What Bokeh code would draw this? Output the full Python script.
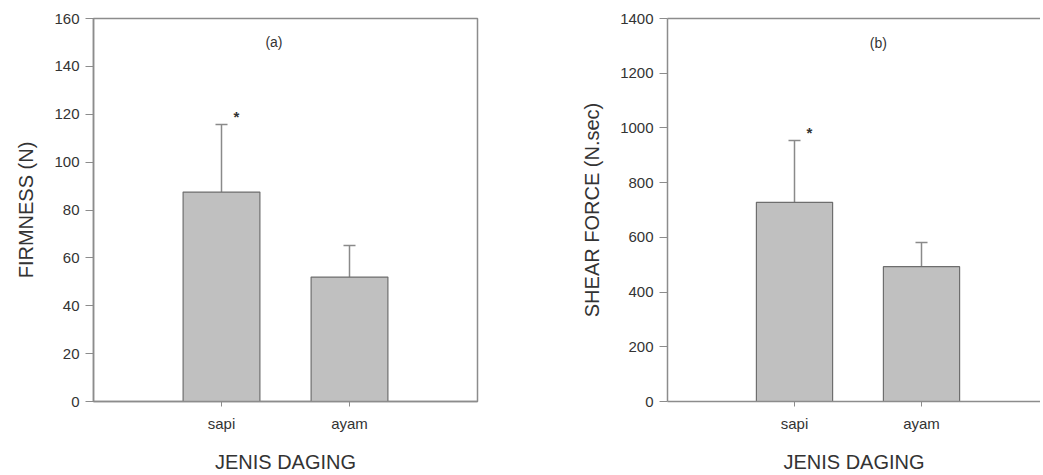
from bokeh.plotting import figure
from bokeh.layouts import row
from bokeh.models import (ColumnDataSource, Range1d, FixedTicker, SingleIntervalTicker,
                          LinearAxis, Whisker, TeeHead, Label)
from bokeh.core.properties import value
from bokeh.embed import file_html
from bokeh.resources import INLINE

categories = ["sapi", "ayam"]
firmness_mean = [87.5, 52.0]
firmness_sd = [28.2, 13.2]
shear_mean = [728.0, 493.0]
shear_sd = [226.0, 88.0]
signif = ["*", ""]
panel_labels = ["(a)", "(b)"]
y_titles = ["FIRMNESS (N)", "SHEAR FORCE (N.sec)"]
x_title = "JENIS DAGING"

FONT = "Liberation Sans"
TXT = "#333333"
AX = "#8c8c8c"


def make(mean, sd, ymax, yint, ytitle, panel, panel_xy, width, bl, br, xend, box):
    xs = [i + 1 for i in range(len(categories))]
    src = ColumnDataSource(dict(
        x=xs, top=mean,
        upper=[m + s for m, s in zip(mean, sd)],
        star=signif,
    ))
    p = figure(width=width, height=475, output_backend="svg", toolbar_location=None,
               x_range=Range1d(0, xend), y_range=Range1d(0, ymax),
               min_border_left=bl, min_border_right=br, min_border_top=18,
               min_border_bottom=10)
    p.grid.visible = False
    p.background_fill_color = "white"
    p.border_fill_color = "white"
    p.outline_line_color = AX if box else None
    p.outline_line_width = 1.5

    p.vbar(x="x", top="top", bottom=0, width=0.6, source=src,
           fill_color="#c0c0c0", line_color="#6e6e6e", line_width=1.2)
    w = Whisker(base="x", lower="top", upper="upper", source=src,
                line_color="#8a8a8a", line_width=1.5,
                lower_head=None,
                upper_head=TeeHead(size=12, line_color="#8a8a8a", line_width=1.5))
    p.add_layout(w)
    p.text(x="x", y="upper", text="star", source=src, x_offset=15, y_offset=-8,
           text_font=value(FONT), text_font_size="15px", text_color="#333333",
           text_font_style="bold",
           text_align="center", text_baseline="middle")

    xa = p.xaxis[0]
    xa.ticker = FixedTicker(ticks=xs)
    xa.major_label_overrides = {x: c for x, c in zip(xs, categories)}
    xa.axis_label = x_title
    ya = p.yaxis[0]
    ya.ticker = SingleIntervalTicker(interval=yint)
    ya.axis_label = ytitle
    for a in (xa, ya):
        a.axis_line_color = AX
        a.axis_line_width = 1.5
        a.major_tick_line_color = AX
        a.major_tick_line_width = 1
        a.major_tick_in = 0
        a.minor_tick_line_color = None
        a.major_label_text_font = FONT
        a.major_label_text_font_size = "15px"
        a.major_label_text_color = TXT
        a.axis_label_text_font = FONT
        a.axis_label_text_font_size = "20px"
        a.axis_label_text_font_style = "normal"
        a.axis_label_text_color = TXT
    ya.major_tick_out = 8
    ya.major_label_standoff = 6
    ya.axis_label_standoff = 14
    xa.major_tick_out = 5
    xa.major_label_standoff = 8
    xa.axis_label_standoff = 16

    if not box:
        top = LinearAxis(ticker=FixedTicker(ticks=[]), axis_line_color=AX,
                         axis_line_width=1.5, major_tick_line_color=None,
                         minor_tick_line_color=None, major_label_text_font_size="0px")
        p.add_layout(top, "above")

    p.add_layout(Label(x=panel_xy[0], y=panel_xy[1], text=panel, text_font=FONT,
                       text_font_size="14px", text_color=TXT,
                       text_align="center", text_baseline="middle"))
    return p


p1 = make(firmness_mean, firmness_sd, 160, 20, y_titles[0], panel_labels[0],
          (1.41, 150), 508, 93, 31, 3.0, True)
p2 = make(shear_mean, shear_sd, 1400, 200, y_titles[1], panel_labels[1],
          (1.66, 1309), 532, 159, 0, 373 / 127, False)

layout = row(p1, p2, spacing=0)
open("out.html", "w").write(file_html(layout, INLINE))
